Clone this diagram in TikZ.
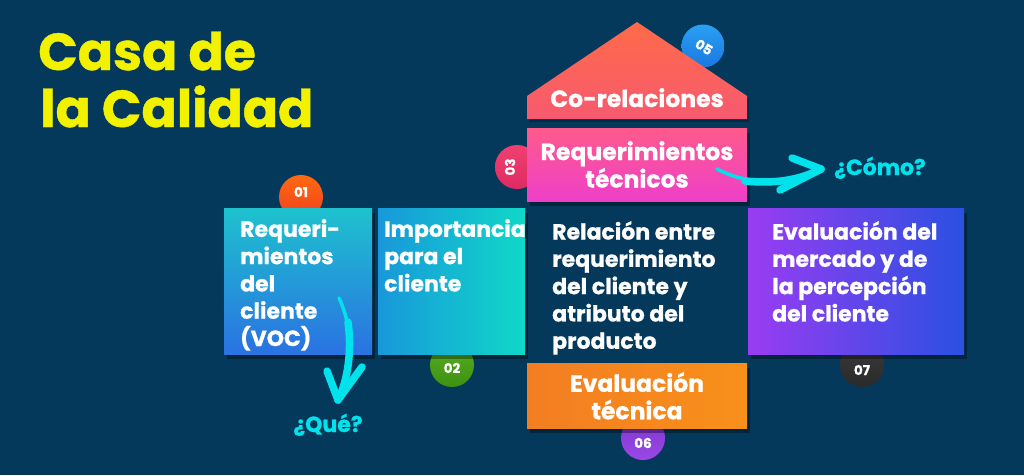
\documentclass[tikz,border=0pt]{standalone}
\usepackage{fontspec}
\setmainfont{Poppins}[BoldFeatures={FakeBold=0.8}]
\usetikzlibrary{shadows,calc}
\definecolor{bg}{HTML}{05395C}
\definecolor{ttl}{HTML}{F2F200}
\definecolor{cy}{HTML}{00E2EC}
\definecolor{roofA}{HTML}{FF6A48}
\definecolor{roofB}{HTML}{F75A70}
\definecolor{rtA}{HTML}{FF5A8C}
\definecolor{rtB}{HTML}{EE3FC8}
\definecolor{bA}{HTML}{1EC2CE}
\definecolor{bB}{HTML}{2A72E2}
\definecolor{cA}{HTML}{1898DA}
\definecolor{cB}{HTML}{10D8C8}
\definecolor{pA}{HTML}{9A3CF2}
\definecolor{pB}{HTML}{2A50E2}
\definecolor{oA}{HTML}{F37E22}
\definecolor{oB}{HTML}{F8901A}
\definecolor{n01A}{HTML}{FF6A10}
\definecolor{n01B}{HTML}{F0401E}
\definecolor{n02A}{HTML}{58B020}
\definecolor{n02B}{HTML}{3E9012}
\definecolor{n03A}{HTML}{F04070}
\definecolor{n03B}{HTML}{DE2A62}
\definecolor{n05A}{HTML}{2AA0F2}
\definecolor{n05B}{HTML}{1A78E0}
\definecolor{n06A}{HTML}{7E36D0}
\definecolor{n06B}{HTML}{9A48E6}
\definecolor{n07A}{HTML}{3A3A3A}
\definecolor{n07B}{HTML}{2A2A2A}
\begin{document}
\begin{tikzpicture}[x=1pt,y=-1pt,
  panel/.style={rectangle, inner sep=0, draw=none,
    drop shadow={shadow xshift=3pt, shadow yshift=-5pt, opacity=0.35, fill=black}},
  dot/.style={circle, inner sep=0, minimum size=44, draw=none},
  num/.style={text=white, font=\bfseries\fontsize{13.5}{13.5}\selectfont, inner sep=0},
  boxtxt/.style={text=white, font=\bfseries\fontsize{22}{27.3}\selectfont, align=left, anchor=north west, inner sep=0},
  ctxt/.style={text=white, font=\bfseries\fontsize{23.5}{27.5}\selectfont, align=center, inner sep=0},
  qtxt/.style={text=cy, font=\bfseries\fontsize{22}{24}\selectfont, inner sep=0, anchor=base},
  brush/.style={draw=cy, line width=7.5, line cap=round, line join=round}]
\useasboundingbox (0,0) rectangle (1024,475);
\fill[bg] (0,0) rectangle (1024,475);

% title
\node[anchor=base west, text=ttl, font=\bfseries\fontsize{52}{60}\selectfont, inner sep=0] (title1) at (38,70) {Casa de};
\node[anchor=base west, text=ttl, font=\bfseries\fontsize{52}{60}\selectfont, inner sep=0] (title2) at (40,127) {la Calidad};

% number dots (behind panels)
\node[dot, top color=n01A, bottom color=n01B] (d01) at (301,197) {};
\node[dot, top color=n02A, bottom color=n02B] (d02) at (452,365) {};
\node[dot, top color=n03A, bottom color=n03B] (d03) at (517,167) {};
\node[dot, top color=n05A, bottom color=n05B, minimum size=43] (d05) at (703,46) {};
\node[dot, top color=n06A, bottom color=n06B] (d06) at (643,438) {};
\node[dot, top color=n07A, bottom color=n07B] (d07) at (862,365) {};

% roof
\path[top color=roofA, bottom color=roofB, drop shadow={shadow xshift=2pt, shadow yshift=-3pt, opacity=0.25, fill=black}]
  (527,119) -- (527,96) -- (637,22) -- (747,96) -- (747,119) -- cycle;

% panels
\node[panel, top color=rtA, bottom color=rtB, minimum width=220, minimum height=73] (rt) at (637,164.5) {};
\node[panel, top color=bA, bottom color=bB, minimum width=148, minimum height=146] (b01) at (298,281) {};
\node[panel, left color=cA, right color=cB, minimum width=147, minimum height=146] (b02) at (451.5,281) {};
\node[panel, left color=pA, right color=pB, minimum width=216, minimum height=146] (b07) at (856,281) {};
\node[panel, left color=oA, right color=oB, minimum width=220, minimum height=65] (et) at (637,395.5) {};

% numbers
\node[num] (n01) at (301,192) {01};
\node[num] (n02) at (452,368) {02};
\node[num, rotate=90] (n03) at (510,167) {03};
\node[num, rotate=-32] (n05) at (704,47) {05};
\node[num] (n06) at (643,443) {06};
\node[num] (n07) at (862,370) {07};

% texts
\node[ctxt, anchor=base] (tcr) at (637,107) {Co-relaciones};
\node[ctxt, anchor=north] (trt) at (637,141) {Requerimientos\\técnicos};
\node[boxtxt] (t01) at (240,219) {Requeri-\\mientos\\del\\cliente\\(VOC)};
\node[boxtxt] (t02) at (384,219) {Importancia\\para el\\cliente};
\node[boxtxt] (t04) at (552,221) {Relación entre\\requerimiento\\del cliente y\\atributo del\\producto};
\node[boxtxt] (t07) at (772,221) {Evaluación del\\mercado y de\\la percepción\\del cliente};
\node[ctxt, anchor=north] (tet) at (637,372) {Evaluación\\técnica};

\node[qtxt] (que) at (328,432) {¿Qué?};
\node[qtxt] (como) at (880,175) {¿Cómo?};

% brush arrows
\coordinate (qa0) at (339,298);
\coordinate (qa1) at (338,400);
\coordinate (qh1) at (327,371);
\coordinate (qh2) at (362,367);
\draw[brush, line width=3.5] (qa0) .. controls (345,310) and (350,330) .. (350,345);
\draw[brush] (348,322) .. controls (352,350) and (348,380) .. (qa1);
\draw[brush] (qh1) -- (qa1) -- (qh2);

\coordinate (ca0) at (717,169);
\coordinate (ca1) at (821,169);
\coordinate (ch1) at (792,158);
\coordinate (ch2) at (780,190);
\draw[brush, line width=3.5] (ca0) .. controls (730,176) and (745,180) .. (760,181);
\draw[brush] (745,181) .. controls (775,184) and (800,180) .. (ca1);
\draw[brush] (ch1) -- (ca1) -- (ch2);
\end{tikzpicture}
\end{document}
